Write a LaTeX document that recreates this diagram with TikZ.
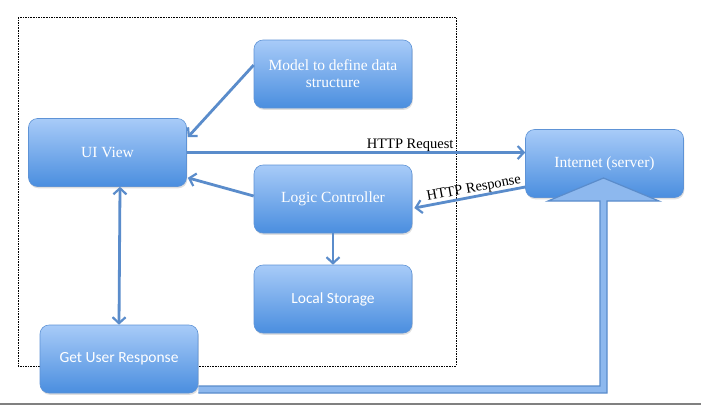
\documentclass[tikz,border=0pt]{standalone}
\usepackage{fontspec}
\setmainfont{Liberation Serif}
\newfontfamily\calfont{Carlito}
\usetikzlibrary{arrows.meta,shadows}
\definecolor{boxtop}{HTML}{A8CBF8}
\definecolor{boxbot}{HTML}{4A8EDF}
\definecolor{boxedge}{HTML}{5E93D6}
\definecolor{arr}{HTML}{5A8CCB}
\definecolor{bigfill}{HTML}{8DB8EE}
\tikzset{
  box/.style={rectangle, rounded corners=9pt, minimum width=158pt, minimum height=68pt,
    top color=boxtop, bottom color=boxbot, draw=boxedge, line width=0.6pt,
    text=white, font=\fontsize{15.5}{17}\selectfont, align=center, inner sep=2pt,
    drop shadow={opacity=0.25, shadow xshift=0.8pt, shadow yshift=-1.8pt}},
  cbox/.style={box, font=\calfont\fontsize{15.5}{17}\selectfont},
  conn/.style={draw=arr, line width=2.8pt, ->, >={Straight Barb[length=6pt,width=13pt,line width=2.2pt]}},
  dconn/.style={conn, <->},
  lbl/.style={font=\fontsize{14.5}{16}\selectfont, inner sep=1pt},
  frame/.style={draw=black, line width=0.6pt, dash pattern=on 1.6pt off 1pt}
}
\begin{document}
\begin{tikzpicture}[x=1pt,y=-1pt]
\useasboundingbox (0,0) rectangle (701,405);
\fill[white] (0,0) rectangle (701,405);
% bottom rule
\draw[gray, line width=2pt] (0,403.5) -- (701,403.5);
% dashed frame
\draw[frame] (18,17) rectangle (456,366);
% boxes
\node[box] (model) at (333,74) {Model to define data\\structure};
\node[box] (ui) at (107.5,152.5) {UI View};
\node[box] (logic) at (333,199) {Logic Controller};
\node[cbox] (storage) at (333,299) {Local Storage};
\node[cbox] (gur) at (119,359) {Get User Response};
\node[box] (net) at (604.5,163.5) {Internet (server)};
% big bent arrow from Get User Response up to Internet
\fill[bigfill, draw=arr, line width=1.2pt, line join=miter]
  (gur.east |- 0,386) -- (600,386) -- (600,201) -- (548,201) -- (603.5,178) -- (659,201) -- (607,201) -- (607,393) -- (gur.east |- 0,393);
% connectors
\draw[conn] ([yshift=9pt]model.west) -- ([xshift=1pt,yshift=-19pt]ui.north east);
\draw[conn] (ui.east) -- node[lbl, above, pos=0.66, yshift=-1pt] {HTTP Request} ([yshift=11pt]net.west);
\draw[conn] ([yshift=-23.5pt]net.west) -- node[lbl, above, sloped, pos=0.45, yshift=-1pt] {HTTP Response} ([xshift=2pt,yshift=-9pt]logic.east);
\draw[conn] ([yshift=3pt]logic.west) -- ([xshift=1pt,yshift=9pt]ui.south east);
\draw[conn] (logic.south) -- (storage.north);
\draw[dconn] ([xshift=12.5pt]ui.south) -- (gur.north);
\end{tikzpicture}
\end{document}
